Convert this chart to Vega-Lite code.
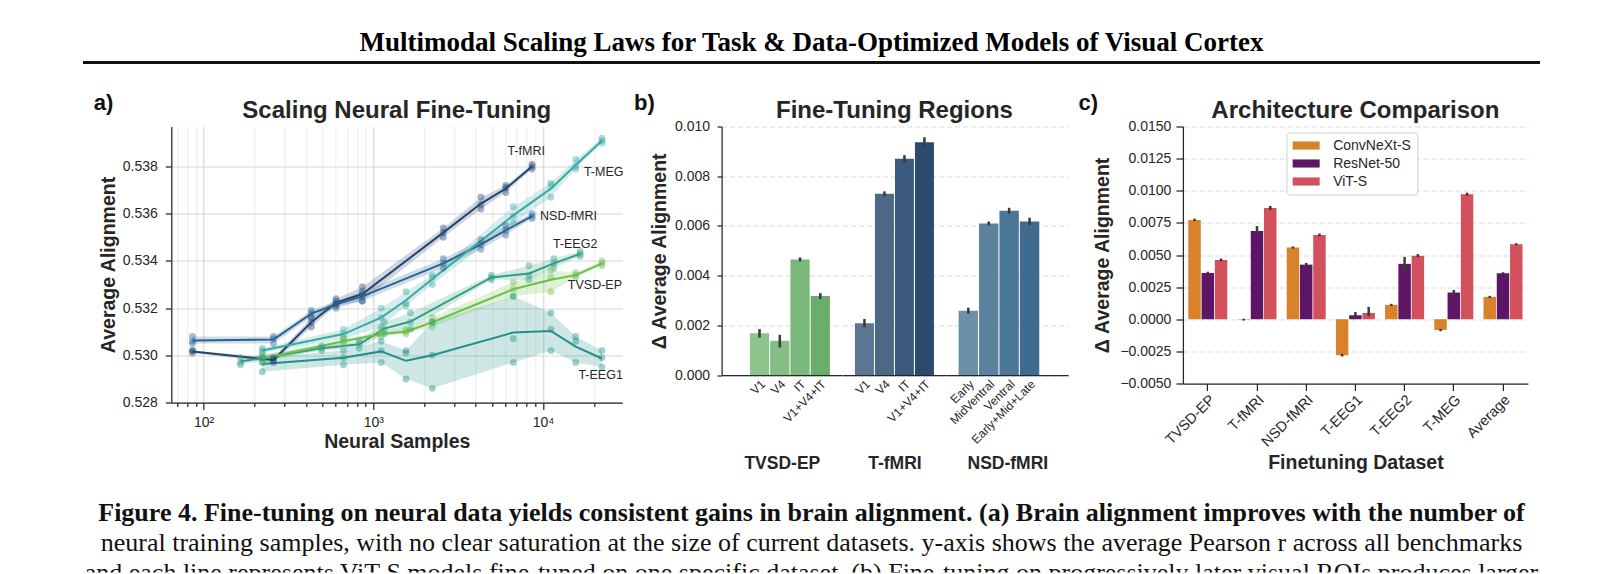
{
 "$schema": "https://vega.github.io/schema/vega-lite/v6.json",
 "background": "white",
 "padding": {"left": 83, "top": 29, "right": 0, "bottom": 0},
 "config": {
  "view": {"stroke": null},
  "font": "Liberation Sans",
  "title": {"font": "Liberation Sans", "color": "#262626", "fontWeight": "bold"},
  "axis": {"labelFont": "Liberation Sans", "titleFont": "Liberation Sans", "labelColor": "#262626", "titleColor": "#262626", "domainColor": "#262626", "tickColor": "#262626", "labelFontSize": 14, "titleFontSize": 19.5, "titleFontWeight": "bold", "domainWidth": 1.25, "tickWidth": 1.25, "labelOverlap": false}
 },
 "datasets": {
  "scaling": [
   {"series":"T-fMRI","n":86,"value":0.5302},{"series":"T-fMRI","n":86,"value":0.5302},{"series":"T-fMRI","n":86,"value":0.5301},
   {"series":"T-fMRI","n":258,"value":0.5299},{"series":"T-fMRI","n":258,"value":0.5298},{"series":"T-fMRI","n":258,"value":0.5297},
   {"series":"T-fMRI","n":431,"value":0.5316},{"series":"T-fMRI","n":431,"value":0.5314},{"series":"T-fMRI","n":431,"value":0.5312},
   {"series":"T-fMRI","n":603,"value":0.5324},{"series":"T-fMRI","n":603,"value":0.5322},{"series":"T-fMRI","n":603,"value":0.5321},
   {"series":"T-fMRI","n":861,"value":0.5329},{"series":"T-fMRI","n":861,"value":0.5326},{"series":"T-fMRI","n":861,"value":0.5323},
   {"series":"T-fMRI","n":2583,"value":0.5354},{"series":"T-fMRI","n":2583,"value":0.5352},{"series":"T-fMRI","n":2583,"value":0.5350},
   {"series":"T-fMRI","n":4305,"value":0.5367},{"series":"T-fMRI","n":4305,"value":0.5364},{"series":"T-fMRI","n":4305,"value":0.5362},
   {"series":"T-fMRI","n":6027,"value":0.5372},{"series":"T-fMRI","n":6027,"value":0.5371},{"series":"T-fMRI","n":6027,"value":0.5369},
   {"series":"T-fMRI","n":8610,"value":0.5381},{"series":"T-fMRI","n":8610,"value":0.5380},{"series":"T-fMRI","n":8610,"value":0.5379},
   {"series":"NSD-fMRI","n":86,"value":0.5308},{"series":"NSD-fMRI","n":86,"value":0.5306},{"series":"NSD-fMRI","n":86,"value":0.5305},
   {"series":"NSD-fMRI","n":258,"value":0.5308},{"series":"NSD-fMRI","n":258,"value":0.5307},{"series":"NSD-fMRI","n":258,"value":0.5305},
   {"series":"NSD-fMRI","n":431,"value":0.5319},{"series":"NSD-fMRI","n":431,"value":0.5318},{"series":"NSD-fMRI","n":431,"value":0.5316},
   {"series":"NSD-fMRI","n":603,"value":0.5323},{"series":"NSD-fMRI","n":603,"value":0.5322},{"series":"NSD-fMRI","n":603,"value":0.5320},
   {"series":"NSD-fMRI","n":861,"value":0.5327},{"series":"NSD-fMRI","n":861,"value":0.5325},{"series":"NSD-fMRI","n":861,"value":0.5323},
   {"series":"NSD-fMRI","n":2583,"value":0.5341},{"series":"NSD-fMRI","n":2583,"value":0.5339},{"series":"NSD-fMRI","n":2583,"value":0.5337},
   {"series":"NSD-fMRI","n":4305,"value":0.5349},{"series":"NSD-fMRI","n":4305,"value":0.5347},{"series":"NSD-fMRI","n":4305,"value":0.5345},
   {"series":"NSD-fMRI","n":6027,"value":0.5355},{"series":"NSD-fMRI","n":6027,"value":0.5353},{"series":"NSD-fMRI","n":6027,"value":0.5351},
   {"series":"NSD-fMRI","n":8610,"value":0.5360},{"series":"NSD-fMRI","n":8610,"value":0.5359},{"series":"NSD-fMRI","n":8610,"value":0.5358},
   {"series":"T-MEG","n":222,"value":0.5303},{"series":"T-MEG","n":222,"value":0.5302},{"series":"T-MEG","n":222,"value":0.5301},
   {"series":"T-MEG","n":667,"value":0.5311},{"series":"T-MEG","n":667,"value":0.5309},{"series":"T-MEG","n":667,"value":0.5307},
   {"series":"T-MEG","n":1112,"value":0.5320},{"series":"T-MEG","n":1112,"value":0.5316},{"series":"T-MEG","n":1112,"value":0.5312},
   {"series":"T-MEG","n":1557,"value":0.5327},{"series":"T-MEG","n":1557,"value":0.5322},{"series":"T-MEG","n":1557,"value":0.5321},
   {"series":"T-MEG","n":2224,"value":0.5334},{"series":"T-MEG","n":2224,"value":0.5333},{"series":"T-MEG","n":2224,"value":0.5330},
   {"series":"T-MEG","n":6672,"value":0.5363},{"series":"T-MEG","n":6672,"value":0.5359},{"series":"T-MEG","n":6672,"value":0.5356},
   {"series":"T-MEG","n":11120,"value":0.5373},{"series":"T-MEG","n":11120,"value":0.5372},{"series":"T-MEG","n":11120,"value":0.5367},
   {"series":"T-MEG","n":15568,"value":0.5383},{"series":"T-MEG","n":15568,"value":0.5380},{"series":"T-MEG","n":15568,"value":0.5379},
   {"series":"T-MEG","n":22240,"value":0.5392},{"series":"T-MEG","n":22240,"value":0.5391},{"series":"T-MEG","n":22240,"value":0.5390},
   {"series":"T-EEG2","n":165,"value":0.5299},{"series":"T-EEG2","n":165,"value":0.5297},{"series":"T-EEG2","n":165,"value":0.5296},
   {"series":"T-EEG2","n":496,"value":0.5304},{"series":"T-EEG2","n":496,"value":0.5303},{"series":"T-EEG2","n":496,"value":0.5302},
   {"series":"T-EEG2","n":827,"value":0.5306},{"series":"T-EEG2","n":827,"value":0.5305},{"series":"T-EEG2","n":827,"value":0.5303},
   {"series":"T-EEG2","n":1158,"value":0.5314},{"series":"T-EEG2","n":1158,"value":0.5311},{"series":"T-EEG2","n":1158,"value":0.5309},
   {"series":"T-EEG2","n":1654,"value":0.5318},{"series":"T-EEG2","n":1654,"value":0.5314},{"series":"T-EEG2","n":1654,"value":0.5311},
   {"series":"T-EEG2","n":4962,"value":0.5334},{"series":"T-EEG2","n":4962,"value":0.5333},{"series":"T-EEG2","n":4962,"value":0.5332},
   {"series":"T-EEG2","n":8270,"value":0.5338},{"series":"T-EEG2","n":8270,"value":0.5334},{"series":"T-EEG2","n":8270,"value":0.5332},
   {"series":"T-EEG2","n":11578,"value":0.5341},{"series":"T-EEG2","n":11578,"value":0.5339},{"series":"T-EEG2","n":11578,"value":0.5337},
   {"series":"T-EEG2","n":16540,"value":0.5344},{"series":"T-EEG2","n":16540,"value":0.5343},{"series":"T-EEG2","n":16540,"value":0.5342},
   {"series":"TVSD-EP","n":222,"value":0.5300},{"series":"TVSD-EP","n":222,"value":0.5299},{"series":"TVSD-EP","n":222,"value":0.5297},
   {"series":"TVSD-EP","n":667,"value":0.5307},{"series":"TVSD-EP","n":667,"value":0.5306},{"series":"TVSD-EP","n":667,"value":0.5305},
   {"series":"TVSD-EP","n":1112,"value":0.5310},{"series":"TVSD-EP","n":1112,"value":0.5309},{"series":"TVSD-EP","n":1112,"value":0.5308},
   {"series":"TVSD-EP","n":1557,"value":0.5311},{"series":"TVSD-EP","n":1557,"value":0.5310},{"series":"TVSD-EP","n":1557,"value":0.5309},
   {"series":"TVSD-EP","n":2224,"value":0.5316},{"series":"TVSD-EP","n":2224,"value":0.5314},{"series":"TVSD-EP","n":2224,"value":0.5312},
   {"series":"TVSD-EP","n":6672,"value":0.5331},{"series":"TVSD-EP","n":6672,"value":0.5328},{"series":"TVSD-EP","n":6672,"value":0.5325},
   {"series":"TVSD-EP","n":11120,"value":0.5336},{"series":"TVSD-EP","n":11120,"value":0.5333},{"series":"TVSD-EP","n":11120,"value":0.5327},
   {"series":"TVSD-EP","n":15568,"value":0.5335},{"series":"TVSD-EP","n":15568,"value":0.5334},{"series":"TVSD-EP","n":15568,"value":0.5333},
   {"series":"TVSD-EP","n":22240,"value":0.5340},{"series":"TVSD-EP","n":22240,"value":0.5339},{"series":"TVSD-EP","n":22240,"value":0.5338},
   {"series":"T-EEG1","n":222,"value":0.5299},{"series":"T-EEG1","n":222,"value":0.5297},{"series":"T-EEG1","n":222,"value":0.5293},
   {"series":"T-EEG1","n":667,"value":0.5302},{"series":"T-EEG1","n":667,"value":0.5299},{"series":"T-EEG1","n":667,"value":0.5296},
   {"series":"T-EEG1","n":1112,"value":0.5306},{"series":"T-EEG1","n":1112,"value":0.5302},{"series":"T-EEG1","n":1112,"value":0.5297},
   {"series":"T-EEG1","n":1557,"value":0.5301},{"series":"T-EEG1","n":1557,"value":0.5302},{"series":"T-EEG1","n":1557,"value":0.5290},
   {"series":"T-EEG1","n":2224,"value":0.5286},{"series":"T-EEG1","n":2224,"value":0.5300},{"series":"T-EEG1","n":2224,"value":0.5314},
   {"series":"T-EEG1","n":6672,"value":0.5325},{"series":"T-EEG1","n":6672,"value":0.5307},{"series":"T-EEG1","n":6672,"value":0.5297},
   {"series":"T-EEG1","n":11120,"value":0.5318},{"series":"T-EEG1","n":11120,"value":0.5311},{"series":"T-EEG1","n":11120,"value":0.5302},
   {"series":"T-EEG1","n":15568,"value":0.5308},{"series":"T-EEG1","n":15568,"value":0.5306},{"series":"T-EEG1","n":15568,"value":0.5297},
   {"series":"T-EEG1","n":22240,"value":0.5302},{"series":"T-EEG1","n":22240,"value":0.5299},{"series":"T-EEG1","n":22240,"value":0.5295}
  ],
  "labels": [
   {"label":"T-fMRI","n":6166,"value":0.53867},
   {"label":"T-MEG","n":17400,"value":0.53779},
   {"label":"NSD-fMRI","n":9600,"value":0.5359},
   {"label":"T-EEG2","n":11430,"value":0.5347},
   {"label":"TVSD-EP","n":14000,"value":0.53297},
   {"label":"T-EEG1","n":16150,"value":0.52917}
  ],
  "regions": [
   {"group":"TVSD-EP","region":"V1","value":0.00168,"lo":0.00151,"hi":0.00185},
   {"group":"TVSD-EP","region":"V4","value":0.00138,"lo":0.00111,"hi":0.00162},
   {"group":"TVSD-EP","region":"IT","value":0.00465,"lo":0.00457,"hi":0.00473},
   {"group":"TVSD-EP","region":"V1+V4+IT","value":0.00318,"lo":0.00306,"hi":0.0033},
   {"group":"T-fMRI","region":"V1","value":0.00209,"lo":0.00192,"hi":0.00226},
   {"group":"T-fMRI","region":"V4","value":0.00729,"lo":0.00719,"hi":0.00739},
   {"group":"T-fMRI","region":"IT","value":0.0087,"lo":0.00855,"hi":0.00885},
   {"group":"T-fMRI","region":"V1+V4+IT","value":0.00937,"lo":0.00917,"hi":0.00957},
   {"group":"NSD-fMRI","region":"Early","value":0.00259,"lo":0.00247,"hi":0.00271},
   {"group":"NSD-fMRI","region":"MidVentral","value":0.0061,"lo":0.00602,"hi":0.00618},
   {"group":"NSD-fMRI","region":"Ventral","value":0.00661,"lo":0.00649,"hi":0.00673},
   {"group":"NSD-fMRI","region":"Early+Mid+Late","value":0.00618,"lo":0.00603,"hi":0.00633}
  ],
  "arch": [
   {"dataset":"TVSD-EP","model":"ConvNeXt-S","value":0.00773,"lo":0.00763,"hi":0.00783},
   {"dataset":"TVSD-EP","model":"ResNet-50","value":0.0036,"lo":0.0035,"hi":0.0037},
   {"dataset":"TVSD-EP","model":"ViT-S","value":0.00462,"lo":0.00452,"hi":0.00472},
   {"dataset":"T-fMRI","model":"ConvNeXt-S","value":-0.00003,"lo":-0.0001,"hi":0.00004},
   {"dataset":"T-fMRI","model":"ResNet-50","value":0.00687,"lo":0.00665,"hi":0.00725},
   {"dataset":"T-fMRI","model":"ViT-S","value":0.00866,"lo":0.0085,"hi":0.00882},
   {"dataset":"NSD-fMRI","model":"ConvNeXt-S","value":0.00558,"lo":0.00549,"hi":0.00567},
   {"dataset":"NSD-fMRI","model":"ResNet-50","value":0.00425,"lo":0.00412,"hi":0.00438},
   {"dataset":"NSD-fMRI","model":"ViT-S","value":0.00656,"lo":0.00645,"hi":0.00667},
   {"dataset":"T-EEG1","model":"ConvNeXt-S","value":-0.0028,"lo":-0.0029,"hi":-0.0027},
   {"dataset":"T-EEG1","model":"ResNet-50","value":0.00031,"lo":0.0001,"hi":0.00057},
   {"dataset":"T-EEG1","model":"ViT-S","value":0.00049,"lo":0.00024,"hi":0.00096},
   {"dataset":"T-EEG2","model":"ConvNeXt-S","value":0.00112,"lo":0.00104,"hi":0.0012},
   {"dataset":"T-EEG2","model":"ResNet-50","value":0.00431,"lo":0.00371,"hi":0.00485},
   {"dataset":"T-EEG2","model":"ViT-S","value":0.00495,"lo":0.00483,"hi":0.00507},
   {"dataset":"T-MEG","model":"ConvNeXt-S","value":-0.00083,"lo":-0.00093,"hi":-0.00075},
   {"dataset":"T-MEG","model":"ResNet-50","value":0.00208,"lo":0.0019,"hi":0.00228},
   {"dataset":"T-MEG","model":"ViT-S","value":0.00973,"lo":0.00961,"hi":0.00985},
   {"dataset":"Average","model":"ConvNeXt-S","value":0.00174,"lo":0.00166,"hi":0.00182},
   {"dataset":"Average","model":"ResNet-50","value":0.00358,"lo":0.0035,"hi":0.00366},
   {"dataset":"Average","model":"ViT-S","value":0.00584,"lo":0.00576,"hi":0.00592}
  ],
  "caption": [
   {"line":0,"text":"Figure 4. Fine-tuning on neural data yields consistent gains in brain alignment. (a) Brain alignment improves with the number of"},
   {"line":1,"text":"neural training samples, with no clear saturation at the size of current datasets. y-axis shows the average Pearson r across all benchmarks"},
   {"line":2,"text":"and each line represents ViT-S models fine-tuned on one specific dataset. (b) Fine-tuning on progressively later visual ROIs produces larger"}
  ]
 },
 "spacing": 27.5,
 "resolve": {"scale": {"x": "independent", "y": "independent", "color": "independent"}},
 "vconcat": [
  {
   "width": 1457, "height": 3,
   "view": {"fill": "#111111", "stroke": null},
   "data": {"values": []},
   "mark": "rect",
   "encoding": {},
   "title": {"text": "Multimodal Scaling Laws for Task & Data-Optimized Models of Visual Cortex", "font": "Liberation Serif", "fontSize": 27, "fontWeight": "bold", "color": "#000000", "anchor": "middle", "frame": "group", "baseline": "alphabetic", "offset": -17}
  },
  {
   "hconcat": [
    {
     "width": 1, "height": 1,
     "data": {"values": []},
     "mark": "rect",
     "encoding": {}
    },
    {
     "width": 451, "height": 276,
     "data": {"name": "scaling"},
     "title": {"text": "Scaling Neural Fine-Tuning", "fontSize": 24, "anchor": "middle", "frame": "group", "baseline": "alphabetic", "offset": -50},
     "layer": [
      {
       "transform": [{"aggregate": [{"op": "min", "field": "value", "as": "lo"}, {"op": "max", "field": "value", "as": "hi"}], "groupby": ["series", "n"]}],
       "mark": {"type": "area", "opacity": 0.22},
       "encoding": {
        "x": {"field": "n", "type": "quantitative", "scale": {"type": "log", "domain": [64.5, 29300], "nice": false},
              "axis": {"orient": "bottom", "title": "Neural Samples", "values": [70,80,90,100,200,300,400,500,600,700,800,900,1000,2000,3000,4000,5000,6000,7000,8000,9000,10000,20000],
                       "labelExpr": "datum.value == 100 ? '10²' : datum.value == 1000 ? '10³' : datum.value == 10000 ? '10⁴' : ''",
                       "labelOverlap": false, "labelFlush": false, "grid": true,
                       "gridColor": {"condition": {"test": "datum.value == 100 || datum.value == 1000 || datum.value == 10000", "value": "#cfcfcf"}, "value": "#ececec"},
                       "tickSize": {"condition": {"test": "datum.value == 100 || datum.value == 1000 || datum.value == 10000", "value": 7}, "value": 4},
                       "labelPadding": 6, "titlePadding": 3}},
        "y": {"field": "lo", "type": "quantitative", "scale": {"domain": [0.528, 0.5397], "nice": false, "zero": false},
              "axis": {"title": "Average Alignment", "values": [0.528,0.53,0.532,0.534,0.536,0.538], "format": ".3f", "grid": true, "gridColor": "#d6d6d6", "tickSize": 6, "labelPadding": 8, "titlePadding": 4}},
        "y2": {"field": "hi"},
        "color": {"field": "series", "type": "nominal", "scale": {"domain": ["T-fMRI","NSD-fMRI","T-MEG","T-EEG2","TVSD-EP","T-EEG1"], "range": ["#24456f","#2b6293","#3aa9a4","#2f9e83","#6dbf4a","#20908a"]}, "legend": null}
       }
      },
      {
       "mark": {"type": "line", "strokeWidth": 2},
       "encoding": {
        "x": {"field": "n", "type": "quantitative", "axis": null},
        "y": {"aggregate": "mean", "field": "value", "type": "quantitative"},
        "color": {"field": "series", "type": "nominal", "legend": null}
       }
      },
      {
       "mark": {"type": "circle", "size": 48, "opacity": 0.42},
       "encoding": {
        "x": {"field": "n", "type": "quantitative", "axis": null},
        "y": {"field": "value", "type": "quantitative"},
        "color": {"field": "series", "type": "nominal", "legend": null}
       }
      },
      {
       "data": {"name": "labels"},
       "mark": {"type": "text", "align": "left", "baseline": "middle", "fontSize": 12.5, "color": "#262626"},
       "encoding": {
        "x": {"field": "n", "type": "quantitative",
              "axis": {"orient": "top", "title": "a)", "labels": false, "ticks": false, "domain": false, "grid": false, "titleX": -78, "titleY": -17, "titleAlign": "left", "titleBaseline": "alphabetic", "titleFontSize": 22, "titleColor": "#111111"}},
        "y": {"field": "value", "type": "quantitative"},
        "text": {"field": "label", "type": "nominal"}
       }
      }
     ]
    },
    {
     "hconcat": [
      {
       "width": 120.5, "height": 248.6,
       "data": {"name": "regions"},
       "transform": [{"filter": "datum.group == 'TVSD-EP'"}],
       "layer": [
        {
         "mark": {"type": "bar"},
         "encoding": {
          "x": {"field": "region", "type": "nominal", "scale": {"domain": ["V1","V4","IT","V1+V4+IT"], "paddingInner": 0.05, "paddingOuter": 1.0375, "align": 0.699},
                "axis": {"orient": "bottom", "title": "TVSD-EP", "labelAngle": -45, "labelFontSize": 12, "ticks": false, "labelPadding": 3, "titleFontSize": 17.5, "titleY": 93.4, "titleBaseline": "alphabetic"}},
          "y": {"field": "value", "type": "quantitative", "scale": {"domain": [0, 0.01], "nice": false},
                "axis": {"values": [0,0.002,0.004,0.006,0.008,0.01], "format": ".3f", "title": "Δ Average Alignment", "grid": true, "gridDash": [5,3], "gridColor": "#d9d9d9", "tickSize": 4.5, "labelPadding": 7.5, "titlePadding": 5}},
          "color": {"field": "region", "type": "nominal", "scale": {"domain": ["V1","V4","IT","V1+V4+IT"], "range": ["#8dc48c","#84be84","#7bb87b","#6cad6c"]}, "legend": null}
         }
        },
        {
         "mark": {"type": "rule", "color": "#3a3a3a", "strokeWidth": 2.5},
         "encoding": {
          "x": {"field": "region", "type": "nominal",
                "axis": {"orient": "top", "title": "b)", "labels": false, "ticks": false, "domain": false, "grid": false, "titleX": -88, "titleY": -17, "titleAlign": "left", "titleBaseline": "alphabetic", "titleFontSize": 22, "titleColor": "#111111"}},
          "y": {"field": "lo", "type": "quantitative"},
          "y2": {"field": "hi"}
         }
        }
       ]
      },
      {
       "width": 103.7, "height": 248.6,
       "data": {"name": "regions"},
       "transform": [{"filter": "datum.group == 'T-fMRI'"}],
       "title": {"text": "Fine-Tuning Regions", "fontSize": 24, "anchor": "middle", "frame": "group", "baseline": "alphabetic", "offset": -15},
       "layer": [
        {
         "mark": {"type": "bar"},
         "encoding": {
          "x": {"field": "region", "type": "nominal", "scale": {"domain": ["V1","V4","IT","V1+V4+IT"], "paddingInner": 0.05, "paddingOuter": 0.6175, "align": 0.5},
                "axis": {"orient": "bottom", "title": "T-fMRI", "labelAngle": -45, "labelFontSize": 12, "ticks": false, "labelPadding": 3, "titleFontSize": 17.5, "titleY": 93.4, "titleBaseline": "alphabetic"}},
          "y": {"field": "value", "type": "quantitative", "scale": {"domain": [0, 0.01], "nice": false},
                "axis": {"values": [0,0.002,0.004,0.006,0.008,0.01], "labels": false, "ticks": false, "domain": false, "title": null, "grid": true, "gridDash": [5,3], "gridColor": "#d9d9d9"}},
          "color": {"field": "region", "type": "nominal", "scale": {"domain": ["V1","V4","IT","V1+V4+IT"], "range": ["#5a7693","#4b6887","#3c5b7c","#2b4a6e"]}, "legend": null}
         }
        },
        {
         "mark": {"type": "rule", "color": "#3a3a3a", "strokeWidth": 2.5},
         "encoding": {
          "x": {"field": "region", "type": "nominal"},
          "y": {"field": "lo", "type": "quantitative"},
          "y2": {"field": "hi"}
         }
        }
       ]
      },
      {
       "width": 121.5, "height": 248.6,
       "data": {"name": "regions"},
       "transform": [{"filter": "datum.group == 'NSD-fMRI'"}],
       "layer": [
        {
         "mark": {"type": "bar"},
         "encoding": {
          "x": {"field": "region", "type": "nominal", "scale": {"domain": ["Early","MidVentral","Ventral","Early+Mid+Late"], "paddingInner": 0.05, "paddingOuter": 1.0625, "align": 0.294},
                "axis": {"orient": "bottom", "title": "NSD-fMRI", "labelAngle": -45, "labelFontSize": 12, "ticks": false, "labelPadding": 3, "titleFontSize": 17.5, "titleY": 93.4, "titleBaseline": "alphabetic"}},
          "y": {"field": "value", "type": "quantitative", "scale": {"domain": [0, 0.01], "nice": false},
                "axis": {"values": [0,0.002,0.004,0.006,0.008,0.01], "labels": false, "ticks": false, "domain": false, "title": null, "grid": true, "gridDash": [5,3], "gridColor": "#d9d9d9"}},
          "color": {"field": "region", "type": "nominal", "scale": {"domain": ["Early","MidVentral","Ventral","Early+Mid+Late"], "range": ["#6b90a8","#5a829f","#4b7898","#3e6b8e"]}, "legend": null}
         }
        },
        {
         "mark": {"type": "rule", "color": "#3a3a3a", "strokeWidth": 2.5},
         "encoding": {
          "x": {"field": "region", "type": "nominal"},
          "y": {"field": "lo", "type": "quantitative"},
          "y2": {"field": "hi"}
         }
        }
       ]
      }
     ],
     "spacing": 0,
     "bounds": "flush",
     "resolve": {"scale": {"x": "independent", "y": "independent", "color": "independent"}}
    },
    {
     "width": 345, "height": 257,
     "data": {"name": "arch"},
     "title": {"text": "Architecture Comparison", "fontSize": 24, "anchor": "middle", "frame": "group", "baseline": "alphabetic", "offset": -50},
     "layer": [
      {
       "mark": {"type": "bar"},
       "encoding": {
        "x": {"field": "dataset", "type": "nominal", "scale": {"domain": ["TVSD-EP","T-fMRI","NSD-fMRI","T-EEG1","T-EEG2","T-MEG","Average"], "paddingInner": 0.207, "paddingOuter": 0.1095},
              "axis": {"orient": "bottom", "title": "Finetuning Dataset", "labelAngle": -45, "labelFontSize": 14.5, "tickSize": 7, "labelPadding": 2, "titlePadding": 5}},
        "xOffset": {"field": "model", "type": "nominal", "scale": {"domain": ["ConvNeXt-S","ResNet-50","ViT-S"], "paddingInner": 0.06}},
        "y": {"field": "value", "type": "quantitative", "scale": {"domain": [-0.005, 0.015], "nice": false},
              "axis": {"values": [-0.005,-0.0025,0,0.0025,0.005,0.0075,0.01,0.0125,0.015], "format": ".4f", "labelOverlap": false, "title": "Δ Average Alignment", "grid": true, "gridDash": [5,3], "gridColor": "#d9d9d9", "tickSize": 7, "labelPadding": 5, "titlePadding": 7}},
        "color": {"field": "model", "type": "nominal", "scale": {"domain": ["ConvNeXt-S","ResNet-50","ViT-S"], "range": ["#d8822a","#5d1566","#d3505d"]},
                  "legend": {"orient": "none", "legendX": 103.5, "legendY": 6, "title": null, "symbolType": "M-2,-0.6H2V0.6H-2Z", "symbolSize": 182.25, "symbolOffset": 6.75, "symbolStrokeWidth": 0, "labelFontSize": 14, "labelColor": "#262626", "labelOffset": 20, "fillColor": "white", "strokeColor": "#cfcfcf", "padding": 6, "cornerRadius": 3, "rowPadding": 4}}
       }
      },
      {
       "mark": {"type": "rule", "color": "#3a3a3a", "strokeWidth": 2.5},
       "encoding": {
        "x": {"field": "dataset", "type": "nominal",
              "axis": {"orient": "top", "title": "c)", "labels": false, "ticks": false, "domain": false, "grid": false, "titleX": -105, "titleY": -17, "titleAlign": "left", "titleBaseline": "alphabetic", "titleFontSize": 22, "titleColor": "#111111"}},
        "xOffset": {"field": "model", "type": "nominal"},
        "y": {"field": "lo", "type": "quantitative",
              "axis": {"values": [-0.005,-0.0025,0,0.0025,0.005,0.0075,0.01,0.0125,0.015], "format": ".4f", "labelOverlap": false, "title": "Δ Average Alignment", "grid": true, "gridDash": [5,3], "gridColor": "#d9d9d9", "tickSize": 7, "labelPadding": 5, "titlePadding": 7}},
        "y2": {"field": "hi"}
       }
      }
     ]
    }
   ],
   "spacing": 9.3,
   "resolve": {"scale": {"x": "independent", "y": "independent", "color": "independent"}, "legend": {"color": "independent"}}
  },
  {
   "width": 1457, "height": 72.5,
   "data": {"name": "caption"},
   "encoding": {
    "y": {"field": "line", "type": "quantitative", "scale": {"domain": [-0.44, 1.977], "reverse": true, "nice": false, "zero": false}, "axis": null},
    "text": {"field": "text", "type": "nominal"}
   },
   "layer": [
    {
     "transform": [{"filter": "datum.line == 0"}],
     "mark": {"type": "text", "font": "Liberation Serif", "fontSize": 26, "fontWeight": "bold", "color": "#111111", "baseline": "middle", "align": "center", "clip": true}
    },
    {
     "transform": [{"filter": "datum.line > 0"}],
     "mark": {"type": "text", "font": "Liberation Serif", "fontSize": 26, "color": "#111111", "baseline": "middle", "align": "center", "clip": true}
    }
   ]
  }
 ]
}
